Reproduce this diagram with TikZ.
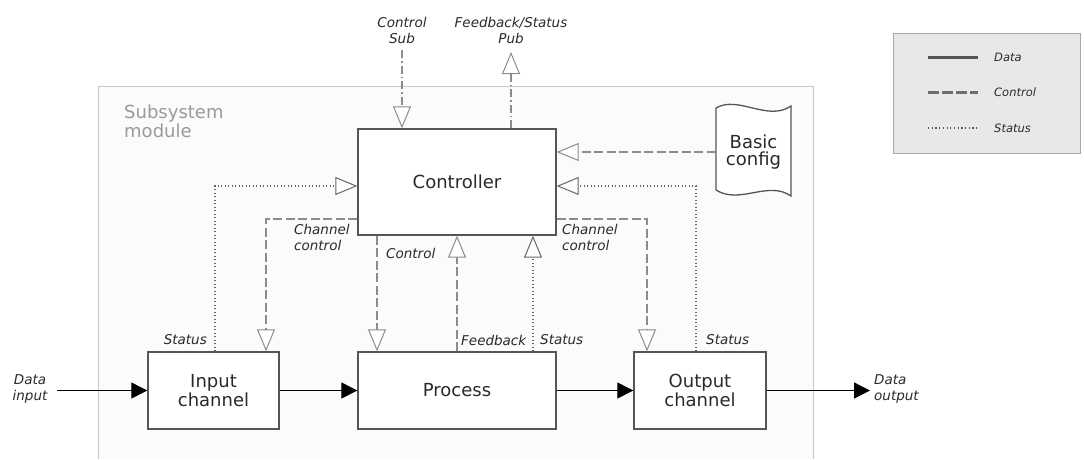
\documentclass[tikz,border=0pt]{standalone}
\usepackage{fontspec}
\setmainfont{DejaVu Sans}
\usetikzlibrary{arrows.meta,calc}

\definecolor{boxc}{HTML}{555555}
\definecolor{txt}{HTML}{2A2A2A}
\definecolor{ctlc}{HTML}{8C8C8C}
\definecolor{stsc}{HTML}{666666}
\definecolor{modc}{HTML}{C8C8C8}
\definecolor{modfill}{HTML}{FBFBFB}
\definecolor{modtxt}{HTML}{9A9A9A}
\definecolor{legfill}{HTML}{E8E8E8}
\definecolor{legc}{HTML}{A8A8A8}

\tikzset{
  blk/.style={draw=boxc, line width=1.4pt, fill=white, inner sep=0pt,
    align=center, text=txt, font=\fontsize{18}{19.5}\selectfont},
  lbl/.style={inner sep=0pt, text=txt, align=left,
    font=\fontsize{13.5}{16}\selectfont\itshape},
  leglbl/.style={inner sep=0pt, text=txt, anchor=west,
    font=\fontsize{11.5}{13}\selectfont\itshape},
  opentip/.style={-{Triangle[open,length=22pt,width=18pt,line width=1pt,fill=white]}},
  dataflow/.style={draw=black, line width=1.3pt, -{Triangle[length=16pt,width=16pt]}},
  ctlflow/.style={draw=ctlc, line width=2.5pt, dash pattern=on 9pt off 3.5pt, opentip},
  stsflow/.style={draw=stsc, line width=1.2pt, dash pattern=on 1.2pt off 2.3pt, opentip},
  busflow/.style={draw=ctlc, line width=1.6pt, dash pattern=on 8pt off 3pt on 1.5pt off 3pt, opentip},
}

\begin{document}
\begin{tikzpicture}[x=1pt, y=-1pt]
\useasboundingbox (0,0) rectangle (1084,459);

% subsystem module frame (open at the bottom)
\fill[modfill] (98,459) -- (98,86) -- (813,86) -- (813,459) -- cycle;
\draw[modc, line width=1pt] (98,459) -- (98,86) -- (813,86) -- (813,459);
\node[anchor=north west, inner sep=0pt, align=left, text=modtxt,
      font=\fontsize{18}{19}\selectfont] (modname) at (124,105) {Subsystem\\module};

% blocks
\node[blk, minimum width=198pt, minimum height=106pt] (ctrl) at (457,182) {Controller};
\node[blk, minimum width=131pt, minimum height=77pt] (inp) at (213.5,390.5) {Input\\channel};
\node[blk, minimum width=198pt, minimum height=77pt] (proc) at (457,390.5) {Process};
\node[blk, minimum width=132pt, minimum height=77pt] (outp) at (700,390.5) {Output\\channel};

% basic configuration document
\draw[boxc, line width=1.3pt, fill=white]
  (716,108) .. controls (738,95) and (768,122) .. (791,106)
  -- (791,196) .. controls (768,180) and (740,205) .. (716,190) -- cycle;
\node[inner sep=0pt, align=center, text=txt, font=\fontsize{18}{17}\selectfont,
      minimum width=75pt, minimum height=86pt] (cfg) at (753.5,152) {Basic\\config};

% data path
\coordinate (din) at (57,390.5);
\coordinate (dout) at (870,390.5);
\draw[dataflow] (din) -- (inp.west);
\draw[dataflow] (inp.east) -- (proc.west);
\draw[dataflow] (proc.east) -- (outp.west);
\draw[dataflow] (outp.east) -- (dout);
\node[lbl, align=center] (dinl) at (30,389) {Data\\input};
\node[lbl, anchor=west] (doutl) at (874,389) {Data\\output};

% external control subscription and status publication
\coordinate (subsrc) at (402,50);
\coordinate (pubdst) at (511,52);
\draw[busflow] (subsrc) -- (subsrc |- ctrl.north);
\draw[busflow] (pubdst |- ctrl.north) -- (pubdst);
\node[lbl, align=center] (subl) at (402,30) {Control\\Sub};
\node[lbl, align=center] (publ) at (511,30) {Feedback/Status\\Pub};

% configuration into controller
\draw[ctlflow] (cfg.west) -- (cfg.west -| ctrl.east);

% channel control and status, input side
\draw[ctlflow] (ctrl.west |- 0,219) -| (266,0 |- inp.north);
\draw[stsflow] (215,0 |- inp.north) |- (ctrl.west |- 0,186);
\node[lbl, anchor=north west] (cclin) at (294,224) {Channel\\control};
\node[lbl, anchor=east] (stin) at (207,340) {Status};

% channel control and status, output side
\draw[ctlflow] (ctrl.east |- 0,219) -| (647,0 |- outp.north);
\draw[stsflow] (696,0 |- outp.north) |- (ctrl.east |- 0,186);
\node[lbl, anchor=north west] (cclout) at (562,224) {Channel\\control};
\node[lbl, anchor=west] (stout) at (706,340) {Status};

% process control, feedback and status
\draw[ctlflow] (377,0 |- ctrl.south) -- (377,0 |- proc.north);
\draw[ctlflow] (457,0 |- proc.north) -- (457,0 |- ctrl.south);
\draw[stsflow] (533,0 |- proc.north) -- (533,0 |- ctrl.south);
\node[lbl, anchor=west] (ctll) at (386,253) {Control};
\node[lbl, anchor=west] (fbl) at (461,340) {Feedback};
\node[lbl, anchor=west] (stproc) at (540,340) {Status};

% legend
\draw[legc, line width=1pt, fill=legfill] (893,33) rectangle (1080,153);
\coordinate (lgda) at (928,57);  \coordinate (lgdb) at (978,57);
\coordinate (lgca) at (928,92);  \coordinate (lgcb) at (978,92);
\coordinate (lgsa) at (928,128); \coordinate (lgsb) at (978,128);
\draw[boxc, line width=3pt] (lgda) -- (lgdb);
\draw[boxc!85, line width=3pt, dash pattern=on 11pt off 3pt] (lgca) -- (lgcb);
\draw[boxc, line width=1.2pt, dash pattern=on 1.2pt off 2.5pt] (lgsa) -- (lgsb);
\node[leglbl] (lgdl) at (994,57) {Data};
\node[leglbl] (lgcl) at (994,92) {Control};
\node[leglbl] (lgsl) at (994,128) {Status};
\end{tikzpicture}
\end{document}
